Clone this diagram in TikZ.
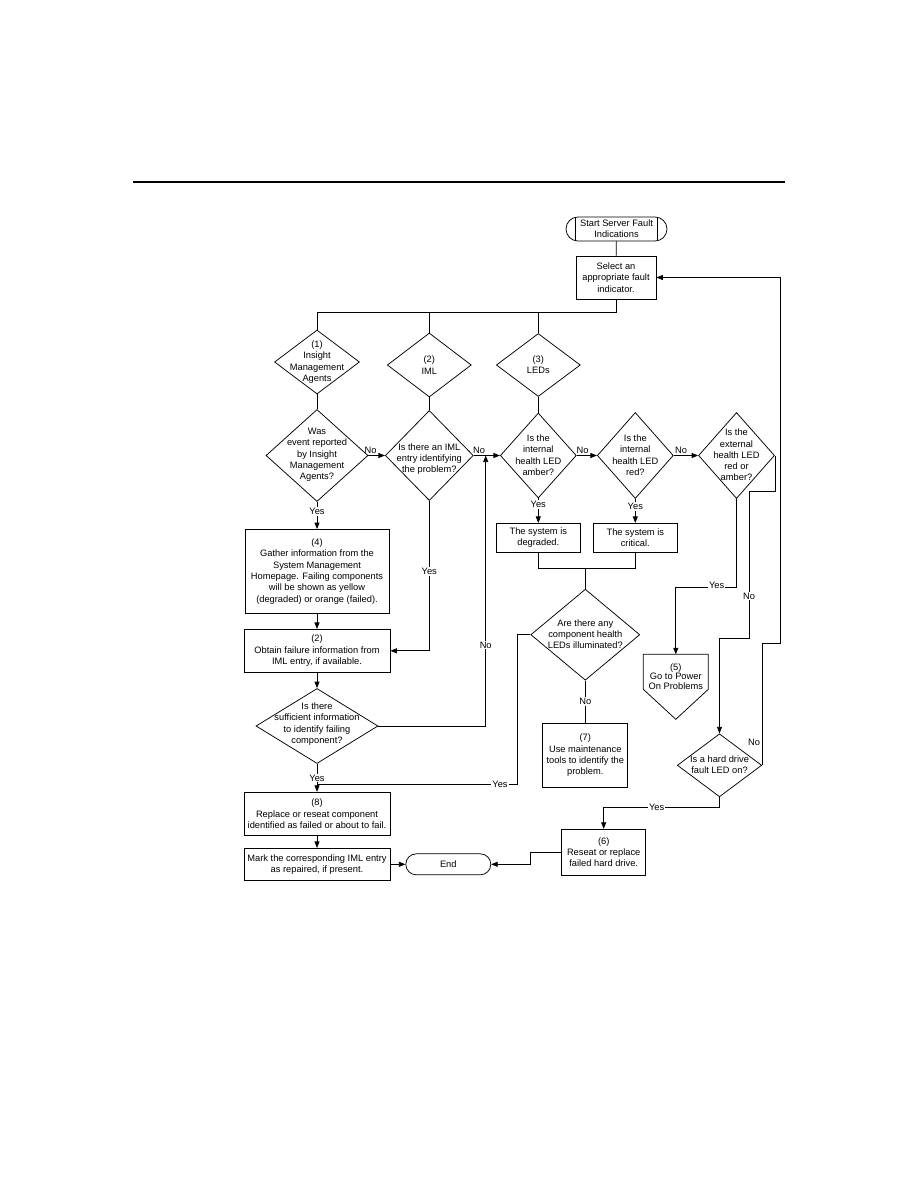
\documentclass[tikz,border=0pt]{standalone}
\usepackage{fontspec}
\setmainfont{Liberation Sans}
\usetikzlibrary{shapes.geometric,arrows.meta,calc}
\newcommand\dgfont{\fontsize{9.3}{11.3}\selectfont}
\newcommand\dgtight{\fontsize{9.3}{9.6}\selectfont}
\tikzset{
  ln/.style={line width=0.75pt},
  arr/.style={ln,-{Triangle[length=6.5pt,width=5pt]}},
  boxn/.style={draw,ln,rectangle,inner sep=0pt,align=center,font=\dgfont},
  dmd/.style={draw,ln,diamond,inner sep=0pt},
  txt/.style={align=center,font=\dgfont,inner sep=0pt},
  lbl/.style={font=\dgfont,fill=white,inner sep=1pt},
  term/.style={draw,ln,rectangle,inner sep=0pt,align=center,font=\dgfont},
}
\begin{document}
\begin{tikzpicture}[x=1pt,y=-1pt]
\useasboundingbox (0,0) rectangle (918,1188);
\fill[white] (0,0) rectangle (918,1188);
\draw[line width=2.5pt] (133,182) -- (785,182);

% start / select
\node[term,rounded corners=12pt,minimum width=101pt,minimum height=24pt] (start) at (616.5,229) {Start Server Fault\\Indications};
\draw[ln] ([xshift=10pt]start.north west) -- ([xshift=10pt]start.south west);
\draw[ln] ([xshift=-10pt]start.north east) -- ([xshift=-10pt]start.south east);
\node[boxn,minimum width=80pt,minimum height=43pt] (sel) at (616,277.5) {Select an\\appropriate fault\\indicator.};

% first row diamonds
\node[dmd,minimum width=85pt,minimum height=64pt] (d1) at (317,362) {};
\node[txt] (d1t) at (317,362) {(1)\\Insight\\Management\\Agents};
\node[dmd,minimum width=84pt,minimum height=64pt] (d2) at (429.3,365) {};
\node[txt] (d2t) at (429.3,365) {(2)\\IML};
\node[dmd,minimum width=84pt,minimum height=63pt] (d3) at (538.3,365) {};
\node[txt] (d3t) at (538.3,365) {(3)\\LEDs};

% second row diamonds
\node[dmd,minimum width=102pt,minimum height=92pt] (was) at (317,455.5) {};
\node[txt] (wast) at (317,455) {Was\\event reported\\by Insight\\Management\\Agents?};
\node[dmd,minimum width=88pt,minimum height=90pt] (iml) at (429.3,455.5) {};
\node[txt] (imlt) at (429.3,459) {Is there an IML\\entry identifying\\the problem?};
\node[dmd,minimum width=76pt,minimum height=85pt] (amb) at (538.3,455.5) {};
\node[txt] (ambt) at (538.3,455.3) {Is the\\internal\\health LED\\amber?};
\node[dmd,minimum width=76pt,minimum height=86pt] (red) at (635.3,455.5) {};
\node[txt] (redt) at (635.3,455.3) {Is the\\internal\\health LED\\red?};
\node[dmd,minimum width=76pt,minimum height=86pt] (ext) at (736.5,455.5) {};
\node[txt] (extt) at (736.5,455) {Is the\\external\\health LED\\red or\\amber?};

% left column
\node[boxn,minimum width=144pt,minimum height=84pt] (b4) at (317,571.5) {(4)\\Gather information from the\\System Management\\Homepage. Failing components\\will be shown as yellow\\(degraded) or orange (failed).};
\node[boxn,minimum width=146pt,minimum height=43pt] (b2) at (317,650.8) {(2)\\Obtain failure information from\\IML entry, if available.};
\node[dmd,minimum width=122pt,minimum height=75pt] (suf) at (317,726) {};
\node[txt] (suft) at (317,724.2) {Is there\\sufficient information\\to identify failing\\component?};
\node[boxn,minimum width=146pt,minimum height=43pt] (b8) at (317,813.7) {(8)\\Replace or reseat component\\identified as failed or about to fail.};
\node[boxn,minimum width=146pt,minimum height=32pt] (mark) at (317,864.3) {Mark the corresponding IML entry\\as repaired, if present.};
\node[term,rounded corners=10.5pt,minimum width=85pt,minimum height=21pt] (end) at (448.3,864.3) {End};

% LED column
\node[boxn,minimum width=84pt,minimum height=29pt] (deg) at (538.3,537.8) {The system is\\degraded.};
\node[boxn,minimum width=84pt,minimum height=29pt] (crit) at (635.3,537.8) {The system is\\critical.};
\node[dmd,minimum width=109pt,minimum height=91pt] (comp) at (585.3,634.7) {};
\node[txt] (compt) at (585.3,634.3) {Are there any\\component health\\LEDs illuminated?};
\node[boxn,minimum width=85pt,minimum height=64pt] (b7) at (585.3,755.3) {(7)\\Use maintenance\\tools to identify the\\problem.};

% off-page connector (5)
\coordinate (p5top) at (675.8,654.3);
\draw[ln] (643.3,654.3) -- (708.3,654.3) -- (708.3,689.3) -- (675.8,719.3) -- (643.3,689.3) -- cycle;
\node[txt,font=\dgtight] (p5) at (675.8,676.3) {(5)\\Go to Power\\On Problems};

\node[dmd,minimum width=84.4pt,minimum height=63pt] (hdd) at (719.5,765.3) {};
\node[txt] (hddt) at (719.5,764.8) {Is a hard drive\\fault LED on?};
\node[boxn,minimum width=84pt,minimum height=46pt] (b6) at (603.7,852.2) {(6)\\Reseat or replace\\failed hard drive.};

% connectors top
\coordinate (j0) at (616,312);
\draw[ln] (start) -- (sel);
\draw[ln] (sel) -- (j0) -| (d1.north);
\draw[ln] (j0) -| (d2.north);
\draw[ln] (j0) -| (d3.north);
\draw[ln] (d1.south) -- (was.north);
\draw[ln] (d2.south) -- (iml.north);
\draw[ln] (d3.south) -- (amb.north);

% horizontal No arrows
\draw[arr] (was.east) -- (iml.west);
\node[txt] (no1) at (370.5,450) {No};
\draw[arr] (iml.east) -- (amb.west);
\node[txt] (no2) at (479,450) {No};
\draw[arr] (amb.east) -- (red.west);
\node[txt] (no3) at (582.5,450) {No};
\draw[arr] (red.east) -- (ext.west);
\node[txt] (no4) at (681,450) {No};

% left column connectors
\draw[arr] (was.south) -- (b4.north);
\node[lbl] (y1) at (317,511.7) {Yes};
\draw[arr] (b4) -- (b2);
\draw[arr] (iml.south) |- (b2.east);
\node[lbl] (y2) at (429.3,571.7) {Yes};
\draw[arr] (b2) -- (suf);
\coordinate (c1) at (485.7,455.5);
\draw[arr] (suf.east) -| (c1);
\node[lbl] (no5) at (485.7,645) {No};
\draw[arr] (suf.south) -- (b8.north);
\node[lbl] (y3) at (317,778) {Yes};
\coordinate (jy) at (317,784.3);
\coordinate (cy) at (517.3,784.3);
\draw[ln] (comp.west) -| (cy) -- (jy);
\node[lbl] (y4) at (500,784.3) {Yes};
\draw[arr] (b8) -- (mark);
\draw[arr] (mark.east) -- (end.west);

% LED connectors
\draw[arr] (amb.south) -- (deg.north);
\node[lbl] (y5) at (538.3,504.3) {Yes};
\draw[arr] (red.south) -- (crit.north);
\node[lbl] (y6) at (635.3,506.7) {Yes};
\coordinate (jd) at (585.3,568.3);
\draw[ln] (deg.south) |- (jd) -| (crit.south);
\draw[ln] (jd) -- (comp.north);
\draw[ln] (comp.south) -- (b7.north);
\node[lbl] (no6) at (585.3,701.3) {No};

% external LED connectors
\coordinate (ey1) at (675.8,587.5);
\draw[arr] (ext.south) |- (ey1) -- (p5top);
\node[lbl] (y7) at (716.7,585) {Yes};
\coordinate (en1) at (749,491);
\coordinate (en2) at (719.5,638);
\draw[arr] (ext.east) |- (en1) |- (en2) -- (hdd.north);
\node[lbl] (no7) at (749,596) {No};

% hard drive connectors
\coordinate (fb1) at (780,643);
\draw[arr] (hdd.east) |- (fb1) |- (sel.east);
\node[txt] (no8) at (754,742) {No};
\coordinate (hy) at (603.7,807.7);
\draw[arr] (hdd.south) |- (hy) -- (b6.north);
\node[lbl] (y8) at (656.7,807.7) {Yes};
\coordinate (e1) at (530,864.3);
\draw[arr] (b6.west) -| (e1) -- (end.east);
\end{tikzpicture}
\end{document}
